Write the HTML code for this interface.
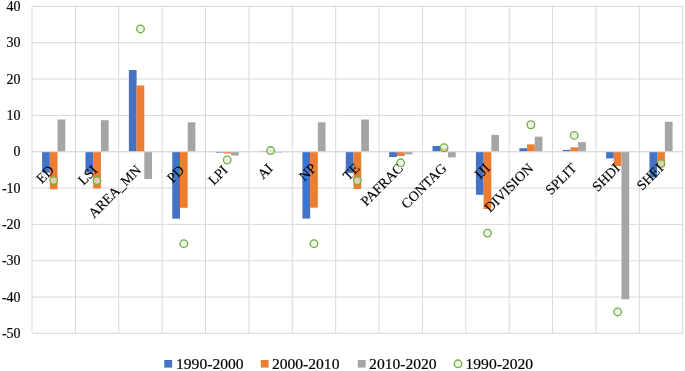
<!DOCTYPE html>
<html><head><meta charset="utf-8"><title>chart</title>
<style>html,body{margin:0;padding:0;background:#fff}svg{display:block}text{font-family:"Liberation Serif","Times New Roman",serif;fill:#000}</style></head><body>
<svg width="685" height="371" viewBox="0 0 685 371">
<rect width="685" height="371" fill="#fff"/>
<g stroke="#D9D9D9" stroke-width="1" fill="none">
<line x1="32.00" y1="6.40" x2="682.70" y2="6.40"/>
<line x1="32.00" y1="42.73" x2="682.70" y2="42.73"/>
<line x1="32.00" y1="79.07" x2="682.70" y2="79.07"/>
<line x1="32.00" y1="115.40" x2="682.70" y2="115.40"/>
<line x1="32.00" y1="151.73" x2="682.70" y2="151.73"/>
<line x1="32.00" y1="188.07" x2="682.70" y2="188.07"/>
<line x1="32.00" y1="224.40" x2="682.70" y2="224.40"/>
<line x1="32.00" y1="260.73" x2="682.70" y2="260.73"/>
<line x1="32.00" y1="297.07" x2="682.70" y2="297.07"/>
<line x1="32.00" y1="333.40" x2="682.70" y2="333.40"/>
<line x1="32.00" y1="6.40" x2="32.00" y2="333.40"/>
<line x1="75.38" y1="6.40" x2="75.38" y2="333.40"/>
<line x1="118.76" y1="6.40" x2="118.76" y2="333.40"/>
<line x1="162.14" y1="6.40" x2="162.14" y2="333.40"/>
<line x1="205.52" y1="6.40" x2="205.52" y2="333.40"/>
<line x1="248.90" y1="6.40" x2="248.90" y2="333.40"/>
<line x1="292.28" y1="6.40" x2="292.28" y2="333.40"/>
<line x1="335.66" y1="6.40" x2="335.66" y2="333.40"/>
<line x1="379.04" y1="6.40" x2="379.04" y2="333.40"/>
<line x1="422.42" y1="6.40" x2="422.42" y2="333.40"/>
<line x1="465.80" y1="6.40" x2="465.80" y2="333.40"/>
<line x1="509.18" y1="6.40" x2="509.18" y2="333.40"/>
<line x1="552.56" y1="6.40" x2="552.56" y2="333.40"/>
<line x1="595.94" y1="6.40" x2="595.94" y2="333.40"/>
<line x1="639.32" y1="6.40" x2="639.32" y2="333.40"/>
<line x1="682.70" y1="6.40" x2="682.70" y2="333.40"/>
</g>
<rect x="42.12" y="151.73" width="7.71" height="20.93" fill="#4472C4"/>
<rect x="49.84" y="151.73" width="7.71" height="37.60" fill="#ED7D31"/>
<rect x="57.55" y="119.51" width="7.71" height="32.23" fill="#A5A5A5"/>
<rect x="85.50" y="151.73" width="7.71" height="20.93" fill="#4472C4"/>
<rect x="93.21" y="151.73" width="7.71" height="36.70" fill="#ED7D31"/>
<rect x="100.92" y="120.20" width="7.71" height="31.54" fill="#A5A5A5"/>
<rect x="128.89" y="70.06" width="7.71" height="81.68" fill="#4472C4"/>
<rect x="136.60" y="85.46" width="7.71" height="66.27" fill="#ED7D31"/>
<rect x="144.31" y="151.73" width="7.71" height="27.25" fill="#A5A5A5"/>
<rect x="172.27" y="151.73" width="7.71" height="66.96" fill="#4472C4"/>
<rect x="179.98" y="151.73" width="7.71" height="56.06" fill="#ED7D31"/>
<rect x="187.69" y="122.30" width="7.71" height="29.43" fill="#A5A5A5"/>
<rect x="215.65" y="151.73" width="7.71" height="0.91" fill="#4472C4"/>
<rect x="223.36" y="151.73" width="7.71" height="1.74" fill="#ED7D31"/>
<rect x="231.06" y="151.73" width="7.71" height="3.85" fill="#A5A5A5"/>
<rect x="259.03" y="151.19" width="7.71" height="0.55" fill="#4472C4"/>
<rect x="266.74" y="150.64" width="7.71" height="1.09" fill="#ED7D31"/>
<rect x="274.45" y="151.73" width="7.71" height="0.80" fill="#A5A5A5"/>
<rect x="302.41" y="151.73" width="7.71" height="66.85" fill="#4472C4"/>
<rect x="310.12" y="151.73" width="7.71" height="55.95" fill="#ED7D31"/>
<rect x="317.83" y="122.30" width="7.71" height="29.43" fill="#A5A5A5"/>
<rect x="345.79" y="151.73" width="7.71" height="21.18" fill="#4472C4"/>
<rect x="353.50" y="151.73" width="7.71" height="37.31" fill="#ED7D31"/>
<rect x="361.21" y="119.51" width="7.71" height="32.23" fill="#A5A5A5"/>
<rect x="389.17" y="151.73" width="7.71" height="5.27" fill="#4472C4"/>
<rect x="396.88" y="151.73" width="7.71" height="4.21" fill="#ED7D31"/>
<rect x="404.59" y="151.73" width="7.71" height="2.62" fill="#A5A5A5"/>
<rect x="432.55" y="145.99" width="7.71" height="5.74" fill="#4472C4"/>
<rect x="440.25" y="147.92" width="7.71" height="3.81" fill="#ED7D31"/>
<rect x="447.97" y="151.73" width="7.71" height="5.63" fill="#A5A5A5"/>
<rect x="475.93" y="151.73" width="7.71" height="43.06" fill="#4472C4"/>
<rect x="483.63" y="151.73" width="7.71" height="57.22" fill="#ED7D31"/>
<rect x="491.35" y="134.91" width="7.71" height="16.82" fill="#A5A5A5"/>
<rect x="519.31" y="148.25" width="7.71" height="3.49" fill="#4472C4"/>
<rect x="527.02" y="144.36" width="7.71" height="7.38" fill="#ED7D31"/>
<rect x="534.73" y="136.66" width="7.71" height="15.08" fill="#A5A5A5"/>
<rect x="562.69" y="149.92" width="7.71" height="1.82" fill="#4472C4"/>
<rect x="570.40" y="147.37" width="7.71" height="4.36" fill="#ED7D31"/>
<rect x="578.11" y="142.14" width="7.71" height="9.59" fill="#A5A5A5"/>
<rect x="606.07" y="151.73" width="7.71" height="6.69" fill="#4472C4"/>
<rect x="613.78" y="151.73" width="7.71" height="14.35" fill="#ED7D31"/>
<rect x="621.49" y="151.73" width="7.71" height="147.51" fill="#A5A5A5"/>
<rect x="649.45" y="151.73" width="7.71" height="25.80" fill="#4472C4"/>
<rect x="657.16" y="151.73" width="7.71" height="14.90" fill="#ED7D31"/>
<rect x="664.87" y="121.79" width="7.71" height="29.94" fill="#A5A5A5"/>
<line x1="32.00" y1="151.73" x2="682.70" y2="151.73" stroke="#D9D9D9" stroke-width="1"/>
<g fill="#E2EFDA" fill-opacity="0.7" stroke="#70AD47" stroke-width="1.3">
<circle cx="53.69" cy="180.62" r="3.8"/>
<circle cx="97.07" cy="180.62" r="3.8"/>
<circle cx="140.45" cy="28.93" r="3.8"/>
<circle cx="183.83" cy="243.66" r="3.8"/>
<circle cx="227.21" cy="160.02" r="3.8"/>
<circle cx="270.59" cy="150.53" r="3.8"/>
<circle cx="313.97" cy="243.66" r="3.8"/>
<circle cx="357.35" cy="180.65" r="3.8"/>
<circle cx="400.73" cy="162.78" r="3.8"/>
<circle cx="444.11" cy="147.74" r="3.8"/>
<circle cx="487.49" cy="233.12" r="3.8"/>
<circle cx="530.87" cy="124.74" r="3.8"/>
<circle cx="574.25" cy="135.38" r="3.8"/>
<circle cx="617.63" cy="311.96" r="3.8"/>
<circle cx="661.01" cy="163.54" r="3.8"/>
</g>
<g font-size="14" text-anchor="end" stroke="#000" stroke-width="0.15">
<text x="20.6" y="11.00">40</text>
<text x="20.6" y="47.33">30</text>
<text x="20.6" y="83.67">20</text>
<text x="20.6" y="120.00">10</text>
<text x="20.6" y="156.33">0</text>
<text x="20.6" y="192.67">-10</text>
<text x="20.6" y="229.00">-20</text>
<text x="20.6" y="265.33">-30</text>
<text x="20.6" y="301.67">-40</text>
<text x="20.6" y="338.00">-50</text>
</g>
<g font-size="14" text-anchor="end" stroke="#000" stroke-width="0.15">
<text transform="translate(54.99,170.93) rotate(-45)">ED</text>
<text transform="translate(98.37,170.93) rotate(-45)">LSI</text>
<text transform="translate(141.85,170.83) rotate(-45)">AREA_MN</text>
<text transform="translate(185.13,170.93) rotate(-45)">PD</text>
<text transform="translate(228.51,170.93) rotate(-45)">LPI</text>
<text transform="translate(273.59,169.23) rotate(-45)">AI</text>
<text transform="translate(317.17,169.03) rotate(-45)">NP</text>
<text transform="translate(360.55,169.03) rotate(-45)">TE</text>
<text transform="translate(403.93,169.03) rotate(-45)">PAFRAC</text>
<text transform="translate(447.31,169.03) rotate(-45)">CONTAG</text>
<text transform="translate(490.69,169.03) rotate(-45)">IJI</text>
<text transform="translate(534.07,169.03) rotate(-45)">DIVISION</text>
<text transform="translate(577.45,169.03) rotate(-45)">SPLIT</text>
<text transform="translate(620.83,169.03) rotate(-45)">SHDI</text>
<text transform="translate(664.21,169.03) rotate(-45)">SHEI</text>
</g>
<g font-size="15.6" stroke="#000" stroke-width="0.2">
<rect x="164.30" y="360.0" width="7.8" height="7.6" fill="#4472C4" stroke="none"/>
<rect x="260.80" y="360.0" width="7.8" height="7.6" fill="#ED7D31" stroke="none"/>
<rect x="357.80" y="360.0" width="7.8" height="7.6" fill="#A5A5A5" stroke="none"/>
<text x="176.00" y="368.6">1990-2000</text>
<text x="271.90" y="368.6">2000-2010</text>
<text x="369.10" y="368.6">2010-2020</text>
<text x="465.50" y="368.6">1990-2020</text>
<circle cx="458.0" cy="363.8" r="3.8" fill="#E2EFDA" fill-opacity="0.7" stroke="#70AD47" stroke-width="1.3"/>
</g>
</svg></body></html>
